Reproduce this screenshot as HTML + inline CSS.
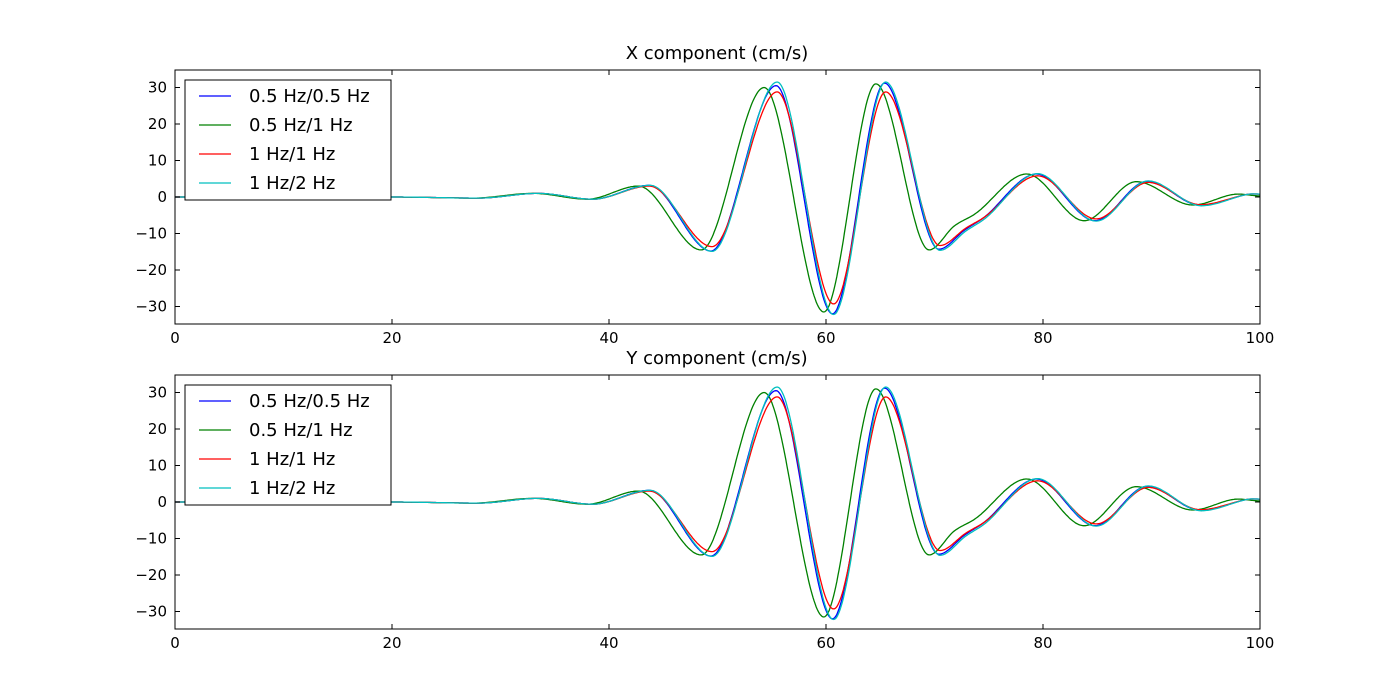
<!DOCTYPE html>
<html><head><meta charset="utf-8"><style>
body{margin:0;background:#fff;}
svg{display:block;font-family:"DejaVu Sans","Liberation Sans",sans-serif;}
</style></head><body>
<svg id="s" width="1400" height="700" xmlns="http://www.w3.org/2000/svg"></svg>
<script>
const S=document.getElementById('s');
const series=[
 {c:'#0000ff',k:[[0,0],[20,0],[28,-0.3],[33.5,1],[38.5,-0.6],[43.7,3.2],[49.4,-14.8],[55.4,30.5],[60.6,-32],[65.4,31.2],[70.4,-14.3],[72.8,-9],[74.6,-5.5],[79.4,6.3],[84.8,-6.5],[89.6,4.3],[94.5,-2.3],[98.8,0.7],[100,0.8]]},
 {c:'#008000',k:[[0,0],[20,0],[27.5,-0.3],[33,1],[38,-0.6],[42.7,3],[48.5,-14.5],[54.3,30],[59.8,-31.5],[64.6,31],[69.5,-14.5],[71.8,-8],[73.8,-4.5],[78.5,6.3],[83.8,-6.5],[88.6,4.2],[93.8,-2.2],[98,0.8],[100,0.3]]},
 {c:'#ff0000',k:[[0,0],[20,0],[28,-0.3],[33.5,1],[38.5,-0.6],[43.7,3],[49.5,-13.6],[55.5,28.8],[60.7,-29.3],[65.5,28.8],[70.5,-13.3],[72.9,-8.5],[74.7,-5.3],[79.5,5.8],[84.9,-6],[89.7,4],[94.5,-2.1],[98.8,0.7],[100,0.8]]},
 {c:'#00bfbf',k:[[0,0],[20,0],[28,-0.3],[33.5,1],[38.5,-0.6],[43.8,3.2],[49.5,-14.9],[55.5,31.5],[60.7,-32.2],[65.5,31.5],[70.5,-14.6],[72.9,-9.3],[74.7,-5.8],[79.5,6.4],[84.9,-6.6],[89.7,4.4],[94.6,-2.4],[98.8,0.7],[100,0.8]]}
];
const labels=['0.5 Hz/0.5 Hz','0.5 Hz/1 Hz','1 Hz/1 Hz','1 Hz/2 Hz'];
function slopes(k){return k.map((p,i)=>{if(i==0||i==k.length-1)return 0;const a=k[i-1],b=k[i+1];if((p[1]-a[1])*(b[1]-p[1])<=0)return 0;return (b[1]-a[1])/(b[0]-a[0]);});}
series.forEach(s=>s.m=slopes(s.k));
function val(s,t){const k=s.k,m=s.m;for(let i=0;i<k.length-1;i++){if(t>=k[i][0]&&t<=k[i+1][0]){const h=k[i+1][0]-k[i][0];const u=(t-k[i][0])/h;const u2=u*u,u3=u2*u;return (2*u3-3*u2+1)*k[i][1]+(u3-2*u2+u)*h*m[i]+(-2*u3+3*u2)*k[i+1][1]+(u3-u2)*h*m[i+1];}}return 0;}
let h='';
function plot(top,title){
 const L=175,R=1260,T=top,B=top+254;
 const X=t=>L+t*(R-L)/100, Y=v=>(T+B)/2-v*3.65;
 h+=`<text x="717" y="${T-11}" font-size="18" text-anchor="middle">${title}</text>`;
 h+=`<clipPath id="c${top}"><rect x="${L}" y="${T}" width="${R-L}" height="${B-T}"/></clipPath><g clip-path="url(#c${top})">`;
 for(const s of series){let d='';for(let t=0;t<=100;t+=0.1){d+=(t?'L':'M')+X(t).toFixed(1)+','+Y(val(s,t)).toFixed(1);}h+=`<path d="${d}" fill="none" stroke="${s.c}" stroke-width="1.3"/>`;}
 h+='</g>';
 h+=`<rect x="${L}" y="${T}" width="${R-L}" height="${B-T}" fill="none" stroke="#000" stroke-width="1"/>`;
 for(let v=-30;v<=30;v+=10){const y=Y(v);h+=`<line x1="${L}" x2="${L+5}" y1="${y}" y2="${y}" stroke="#000"/><line x1="${R-5}" x2="${R}" y1="${y}" y2="${y}" stroke="#000"/><text x="${L-8}" y="${y+5}" font-size="15" text-anchor="end">${v<0?'\u2212'+(-v):v}</text>`;}
 for(let t=0;t<=100;t+=20){const x=X(t);h+=`<line x1="${x}" x2="${x}" y1="${B}" y2="${B-5}" stroke="#000"/><line x1="${x}" x2="${x}" y1="${T}" y2="${T+5}" stroke="#000"/><text x="${x}" y="${B+19}" font-size="15" text-anchor="middle">${t}</text>`;}
 h+=`<rect x="185" y="${T+10}" width="206" height="120" fill="#fff" stroke="#000"/>`;
 for(let i=0;i<4;i++){const y=T+26+i*29;h+=`<line x1="199" x2="231" y1="${y}" y2="${y}" stroke="${series[i].c}" stroke-width="1.3"/><text x="249" y="${y+6}" font-size="18">${labels[i]}</text>`;}
}
plot(70,'X component (cm/s)');
plot(375,'Y component (cm/s)');
S.innerHTML=h;
</script>
</body></html>
